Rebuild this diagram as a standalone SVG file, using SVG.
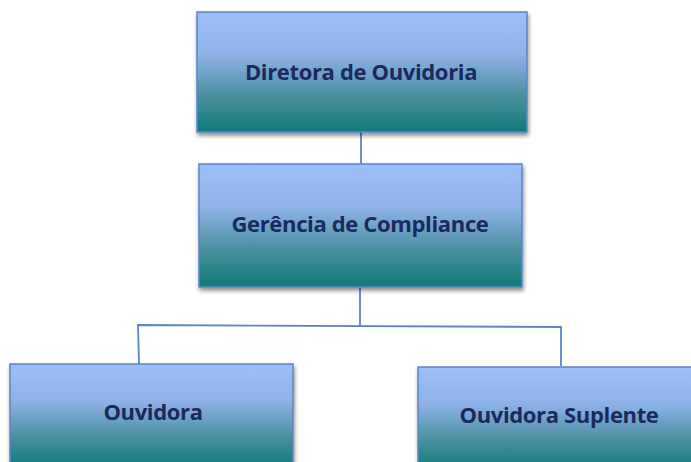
<svg xmlns="http://www.w3.org/2000/svg" width="691" height="462" viewBox="0 0 691 462">
<defs>
<linearGradient id="g" x1="0" y1="0" x2="0" y2="1">
<stop offset="0" stop-color="#9bbff7"/>
<stop offset="0.35" stop-color="#8fb3e8"/>
<stop offset="0.7" stop-color="#4a8f9f"/>
<stop offset="1" stop-color="#0f7b78"/>
</linearGradient>
<filter id="sh" x="-5%" y="-5%" width="112%" height="120%">
<feGaussianBlur in="SourceAlpha" stdDeviation="2"/>
<feOffset dx="1" dy="3"/>
<feComponentTransfer><feFuncA type="linear" slope="0.45"/></feComponentTransfer>
<feMerge><feMergeNode/><feMergeNode in="SourceGraphic"/></feMerge>
</filter>
</defs>
<style>
.box{stroke:#5b86c4;stroke-width:1.5;filter:url(#sh)}
.lbl{font-family:"Open Sans","Liberation Sans",sans-serif;font-weight:bold;font-size:22px;fill:#1b2a5e;text-anchor:middle;letter-spacing:-0.35px}
.con{fill:none;stroke:#5b86c4;stroke-width:1.8}
</style>
<rect width="691" height="462" fill="#ffffff"/>
<g id="connectors">
<line class="con" x1="361" y1="131" x2="361" y2="164"/>
<polyline class="con" points="360,287 360,326"/>
<polyline class="con" points="139,364 138,325 561,327 561,366"/>
</g>
<g id="n1">
<rect class="box" x="197" y="12" width="330" height="120" fill="url(#g)"/>
<text class="lbl" x="361" y="80">Diretora de Ouvidoria</text>
</g>
<g id="n2">
<rect class="box" x="199" y="164" width="323" height="123" fill="url(#g)"/>
<text class="lbl" x="360" y="232">Gerência de Compliance</text>
</g>
<g id="n3">
<rect class="box" x="10" y="364" width="283" height="104" fill="url(#g)"/>
<text class="lbl" x="153" y="420">Ouvidora</text>
</g>
<g id="n4">
<rect class="box" x="418" y="367" width="283" height="104" fill="url(#g)"/>
<text class="lbl" x="559" y="423">Ouvidora Suplente</text>
</g>
</svg>
